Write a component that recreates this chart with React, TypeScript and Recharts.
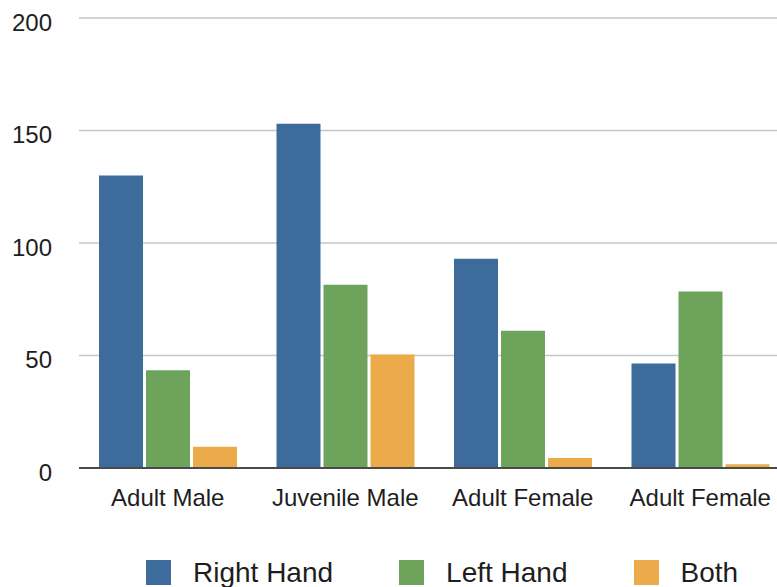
import { BarChart, Bar, XAxis, YAxis, CartesianGrid, Legend } from "recharts";

const categories = ["Adult Male", "Juvenile Male", "Adult Female", "Adult Female "];
const rightHand = [130, 153, 93, 46.5];
const leftHand = [43.5, 81.5, 61, 78.5];
const both = [9.5, 50.5, 4.5, 1.7];
const yTicks = [0, 50, 100, 150, 200];

const series = [
  { key: "right", name: "Right Hand", color: "#3d6b9c", values: rightHand },
  { key: "left", name: "Left Hand", color: "#6ea35b", values: leftHand },
  { key: "both", name: "Both", color: "#ecab4a", values: both },
];

const data = categories.map((c, i) => ({
  category: c,
  right: rightHand[i],
  left: leftHand[i],
  both: both[i],
}));

const font = '"Liberation Sans", Arial, Helvetica, sans-serif';

function renderLegend() {
  return (
    <div
      style={{
        display: "flex",
        alignItems: "center",
        paddingTop: 42,
        paddingLeft: 146,
        fontFamily: font,
        fontSize: 28,
        color: "#1e1e1e",
        whiteSpace: "nowrap",
      }}
    >
      {series.map((s) => (
        <div
          key={s.key}
          style={{ display: "flex", alignItems: "center", marginRight: 66, flexShrink: 0 }}
        >
          <span
            style={{
              display: "inline-block",
              width: 25,
              height: 25,
              background: s.color,
              marginRight: 22,
              flexShrink: 0,
            }}
          />
          <span style={{ lineHeight: "25px" }}>{s.name}</span>
        </div>
      ))}
    </div>
  );
}

export default function App() {
  return (
    <div
      style={{
        position: "absolute",
        left: 0,
        top: 0,
        width: 777,
        height: 587,
        overflow: "hidden",
        background: "#fff",
      }}
    >
      <BarChart
        width={790}
        height={587}
        data={data}
        margin={{ top: 18, right: 1, left: 0, bottom: 0 }}
        barCategoryGap={20}
        barGap={3}
      >
        <CartesianGrid vertical={false} stroke="#c6c6c6" strokeWidth={1.6} />
        <XAxis
          dataKey="category"
          height={50}
          tickLine={false}
          tickSize={6}
          tickMargin={15}
          axisLine={{ stroke: "#4a4a4a", strokeWidth: 2 }}
          tick={{ fill: "#1e1e1e", fontSize: 24, fontFamily: font }}
          interval={0}
        />
        <YAxis
          width={79}
          domain={[0, 200]}
          ticks={yTicks}
          axisLine={false}
          tickLine={false}
          tickSize={6}
          tickMargin={21}
          tick={{ fill: "#1e1e1e", fontSize: 24, fontFamily: font, dy: 4 }}
        />
        <Legend
          content={renderLegend}
          verticalAlign="bottom"
          height={69}
          wrapperStyle={{ left: 0, width: 790, bottom: 0, height: 69 }}
        />
        {series.map((s) => (
          <Bar
            key={s.key}
            dataKey={s.key}
            name={s.name}
            fill={s.color}
            isAnimationActive={false}
          />
        ))}
      </BarChart>
    </div>
  );
}
